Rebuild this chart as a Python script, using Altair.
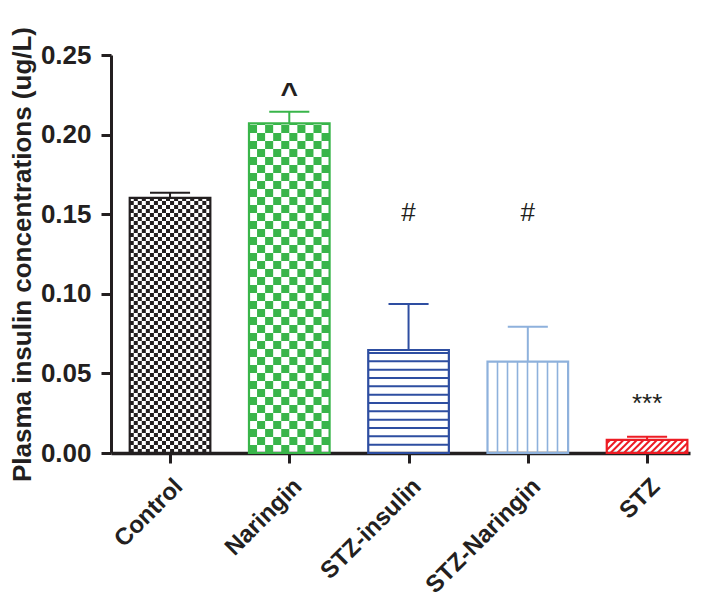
import json
import math
import altair as alt
import pandas as pd

# ---- data ----
groups = ["Control", "Naringin", "STZ-insulin", "STZ-Naringin", "STZ"]
means = [0.1602, 0.2071, 0.0647, 0.0574, 0.0082]
sems = [0.0033, 0.0073, 0.0289, 0.0219, 0.0020]
sig_text = ["", "^", "#", "#", "***"]
sig_y = [0.0, 0.2252, 0.1508, 0.1508, 0.031]
colors = ["#231f20", "#39b54a", "#2e4ea1", "#8eb1dc", "#ed1c24"]
patterns = ["checker4", "checker8", "hlines", "vlines", "diag"]

# ---- geometry helpers (pixel <-> data units for the texture fills) ----
W_PLOT, H_PLOT = 579, 398
X_DOM = [-0.495, 4.36]
Y_DOM = [0.0, 0.25]
PX_X = W_PLOT / (X_DOM[1] - X_DOM[0])
PX_Y = H_PLOT / (Y_DOM[1] - Y_DOM[0])
HALF = 0.338          # half bar width (x units)
CAP = 0.168           # half error cap width (x units)

bars = pd.DataFrame({
    "group": groups, "i": list(range(len(groups))), "mean": means,
    "top": [m + s for m, s in zip(means, sems)], "color": colors,
})
bars["x0"] = bars["i"] - HALF
bars["x1"] = bars["i"] + HALF
bars["c0"] = bars["i"] - CAP
bars["c1"] = bars["i"] + CAP

cells, hl, vl, dg = [], [], [], []
for i, (m, col, pat) in enumerate(zip(means, colors, patterns)):
    if pat.startswith("checker"):
        size = 4 if pat == "checker4" else 8
        ncols = round(2 * HALF * PX_X / size)
        cw = 2 * HALF / ncols
        ch = size / PX_Y
        nrows = math.ceil(m / ch)
        for r in range(nrows):
            for c in range(ncols):
                if (r + c) % 2 == 0:
                    cells.append({"x": i - HALF + c * cw, "x2": i - HALF + (c + 1) * cw,
                                  "y": r * ch, "y2": min((r + 1) * ch, m), "color": col})
    elif pat == "hlines":
        step = 8.33 / PX_Y
        k = 1
        while k * step < m - step / 4:
            hl.append({"x": i - HALF, "x2": i + HALF, "y": k * step, "color": col})
            k += 1
    elif pat == "vlines":
        step = 10.0 / PX_X
        k = 1
        while i - HALF + k * step < i + HALF - step / 3:
            vl.append({"x": i - HALF + k * step, "y": 0.0, "y2": m, "color": col})
            k += 1
    elif pat == "diag":
        Wp = 2 * HALF * PX_X
        Hp = m * PX_Y
        s = 6.7
        c = -Hp + s / 2
        while c < Wp:
            v0 = max(0.0, -c)
            v1 = min(Hp, Wp - c)
            if v1 > v0:
                dg.append({"x": i - HALF + (v0 + c) / PX_X, "x2": i - HALF + (v1 + c) / PX_X,
                           "y": v0 / PX_Y, "y2": v1 / PX_Y, "color": col})
            c += s

cells = pd.DataFrame(cells)
hl = pd.DataFrame(hl)
vl = pd.DataFrame(vl)
dg = pd.DataFrame(dg)
ann = pd.DataFrame({"i": list(range(len(groups))), "txt": sig_text, "y": sig_y})

FONT = "Liberation Sans"
INK = "#231f20"
label_expr = json.dumps(groups) + "[datum.value]"

x_axis = alt.Axis(values=list(range(len(groups))), labelExpr=label_expr, labelAngle=-45,
                  labelOverlap=False, labelBound=False,
                  title="", grid=False, tickSize=10, tickWidth=3, domainWidth=3.5,
                  labelFontSize=24, labelFont=FONT, labelFontWeight="bold",
                  labelColor=INK, labelPadding=11, domainColor=INK, tickColor=INK)
y_axis = alt.Axis(values=[0, 0.05, 0.10, 0.15, 0.20, 0.25], format=".2f", grid=False,
                  labelOverlap=False,
                  tickSize=10, tickWidth=3, domainWidth=3, labelFontSize=26, labelFont=FONT,
                  labelFontWeight="bold", labelColor=INK, labelPadding=10,
                  title="Plasma insulin concentrations (ug/L)", titleFont=FONT,
                  titleFontSize=26, titleFontWeight="bold", titleColor=INK,
                  titlePadding=5, domainColor=INK, tickColor=INK)

xs = alt.Scale(domain=X_DOM, nice=False, zero=False)
ys = alt.Scale(domain=Y_DOM, nice=False)


def X(f):
    return alt.X(f"{f}:Q", scale=xs, axis=x_axis)


def Y(f):
    return alt.Y(f"{f}:Q", scale=ys, axis=y_axis)


col = alt.Color("color:N", scale=None)

checker = alt.Chart(cells).mark_rect(strokeWidth=0).encode(
    x=X("x"), x2="x2", y=Y("y"), y2="y2", fill=alt.Fill("color:N", scale=None))
hlines = alt.Chart(hl).mark_rule(strokeWidth=2).encode(x=X("x"), x2="x2", y=Y("y"), color=col)
vlines = alt.Chart(vl).mark_rule(strokeWidth=1.6).encode(x=X("x"), y=Y("y"), y2="y2", color=col)
diag = alt.Chart(dg).mark_rule(strokeWidth=2).encode(x=X("x"), x2="x2", y=Y("y"), y2="y2", color=col)

outline = alt.Chart(bars).mark_rect(filled=False, strokeWidth=2.2).encode(
    x=X("x0"), x2="x1", y=Y("mean"), y2=alt.datum(0), stroke=alt.Stroke("color:N", scale=None))
err = alt.Chart(bars).mark_rule(strokeWidth=2).encode(x=X("i"), y=Y("mean"), y2="top", color=col)
cap = alt.Chart(bars).mark_rule(strokeWidth=2).encode(x=X("c0"), x2="c1", y=Y("top"), color=col)

caret = alt.Chart(ann).transform_filter("datum.txt == '^'").mark_text(
    font=FONT, fontSize=30, fontWeight="bold", baseline="middle", color=INK).encode(
    x=X("i"), y=Y("y"), text="txt:N")
others = alt.Chart(ann).transform_filter("datum.txt != '^' && datum.txt != ''").mark_text(
    font=FONT, fontSize=26, baseline="middle", color=INK).encode(
    x=X("i"), y=Y("y"), text="txt:N")

chart = alt.layer(checker, hlines, vlines, diag, outline, err, cap, caret, others).properties(
    width=W_PLOT, height=H_PLOT,
    autosize=alt.AutoSizeParams(type="none"),
    padding={"left": 103, "top": 47, "right": 10, "bottom": 152},
).configure_view(stroke=None)

chart.save("out.html", embed_options={"renderer": "svg", "actions": False})
